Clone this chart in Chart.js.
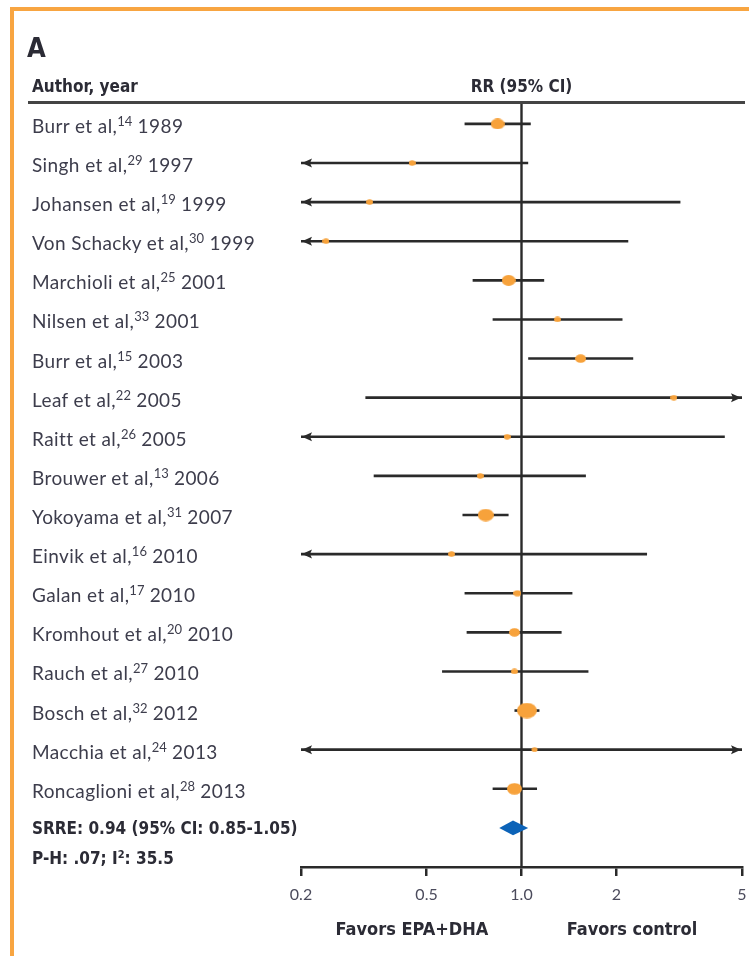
<!DOCTYPE html>
<html>
<head>
<meta charset="utf-8">
<script src="https://cdn.jsdelivr.net/npm/chart.js@4.4.1/dist/chart.umd.min.js"></script>
<style>
  html, body { margin: 0; padding: 0; background: #fff; }
  #wrap { position: relative; width: 749px; height: 956px; overflow: hidden; background: #fff; }
  #frame { position: absolute; left: 10px; top: 7px; width: 800px; height: 1000px;
           border-left: 4px solid #f8a541; border-top: 4px solid #f8a541; }
  #plot { position: absolute; left: 0; top: 0; }
  .txt { position: absolute; white-space: nowrap; line-height: 1; transform: translateY(-50%); }
  .study { left: 32px; font-family: Lato, "Open Sans", sans-serif; font-size: 19px; letter-spacing: 0.4px;
           color: #3d3d4c; }
  .study sup { font-size: 13px; vertical-align: baseline; position: relative; top: -7px; letter-spacing: 0; }
  .bold { font-family: "DejaVu Sans", sans-serif; font-stretch: condensed; font-weight: bold;
          color: #2b2b35; font-size: 17px; }
  .bold sup { font-size: 11px; vertical-align: baseline; position: relative; top: -6px; }
  #rule { position: absolute; left: 28px; top: 101px; width: 717px; height: 2.5px; background: #444; }
</style>
</head>
<body>
<div id="wrap">
  <div id="frame"></div>
  <canvas id="plot" width="749" height="956"></canvas>
  <div id="rule"></div>
</div>
<script>
// Trials included in the meta-analysis, top to bottom
const studies = ['Burr et al,', 'Singh et al,', 'Johansen et al,', 'Von Schacky et al,', 'Marchioli et al,',
  'Nilsen et al,', 'Burr et al,', 'Leaf et al,', 'Raitt et al,', 'Brouwer et al,', 'Yokoyama et al,',
  'Einvik et al,', 'Galan et al,', 'Kromhout et al,', 'Rauch et al,', 'Bosch et al,', 'Macchia et al,',
  'Roncaglioni et al,'];
const refs = ['14', '29', '19', '30', '25', '33', '15', '22', '26', '13', '31', '16', '17', '20', '27', '32', '24', '28'];
const years = ['1989', '1997', '1999', '1999', '2001', '2001', '2003', '2005', '2005', '2006', '2007',
  '2010', '2010', '2010', '2010', '2012', '2013', '2013'];

// Relative risk and 95% CI (null = interval runs past the plotted range)
const rr     = [0.84, 0.45, 0.33, 0.24, 0.91, 1.30, 1.54, 3.04, 0.90, 0.74, 0.77, 0.60, 0.97, 0.95, 0.95, 1.04, 1.10, 0.95];
const ciLow  = [0.66, null, null, null, 0.70, 0.81, 1.05, 0.32, null, 0.34, 0.65, null, 0.66, 0.67, 0.56, 0.95, null, 0.81];
const ciHigh = [1.07, 1.05, 3.19, 2.18, 1.18, 2.09, 2.26, null, 4.41, 1.60, 0.91, 2.50, 1.45, 1.34, 1.63, 1.14, null, 1.12];
// Relative study weight (%)
const weights = [12, 3, 3, 3, 12, 3, 7.5, 3, 3, 3, 16, 3, 4, 7.5, 3, 25, 2.3, 14];

// Summary random-effects estimate
const pooledRR = [0.94];
const pooledLow = [0.85];
const pooledHigh = [1.05];

// Axis
const tickValues = [0.2, 0.5, 1, 2, 5];
const tickLabels = ['0.2', '0.5', '1.0', '2', '5'];

const X_MIN = tickValues[0], X_MAX = tickValues[tickValues.length - 1];
const ROW_MIN = -0.56, ROW_MAX = 19.0;
const SUMMARY_ROW = studies.length;

const ORANGE = '#f7a23b';
const INK = '#2a2a2a';

// Elliptical marker sprites, area proportional to weight
function ellipseSprite(w) {
  const rx = 2.0 * Math.sqrt(w), ry = rx * 0.78;
  const c = document.createElement('canvas');
  c.width = Math.ceil(rx * 2); c.height = Math.ceil(ry * 2);
  const g = c.getContext('2d');
  g.fillStyle = ORANGE;
  g.beginPath();
  g.ellipse(c.width / 2, c.height / 2, rx, ry, 0, 0, Math.PI * 2);
  g.fill();
  return c;
}
const sprites = weights.map(ellipseSprite);

const markerSet = {
  type: 'scatter',
  order: 0,
  data: rr.map((v, i) => ({ x: v, y: i })),
  pointStyle: sprites,
  pointRadius: weights.map(w => 2.0 * Math.sqrt(w)),
  backgroundColor: ORANGE,
  borderWidth: 0
};

const ciSets = studies.map((s, i) => ({
  type: 'line',
  order: 1,
  data: [{ x: ciLow[i] ?? X_MIN, y: i }, { x: ciHigh[i] ?? X_MAX, y: i }],
  borderColor: INK,
  borderWidth: 2.6,
  pointRadius: 0,
  fill: false
}));

// Reference line at RR = 1, arrowheads for truncated intervals, pooled diamond
const forestPlugin = {
  id: 'forest',
  beforeDatasetsDraw(chart) {
    const { ctx, chartArea, scales: { x } } = chart;
    const px = x.getPixelForValue(1);
    ctx.save();
    ctx.strokeStyle = INK;
    ctx.lineWidth = 2.4;
    ctx.beginPath();
    ctx.moveTo(px, chartArea.top);
    ctx.lineTo(px, chartArea.bottom);
    ctx.stroke();
    ctx.restore();
  },
  afterDatasetsDraw(chart) {
    const { ctx, scales: { x, y } } = chart;
    ctx.save();
    ctx.fillStyle = INK;
    const head = (tipX, py, dir) => {
      ctx.beginPath();
      ctx.moveTo(tipX, py);
      ctx.lineTo(tipX + dir * 10, py - 4.5);
      ctx.lineTo(tipX + dir * 8, py);
      ctx.lineTo(tipX + dir * 10, py + 4.5);
      ctx.closePath();
      ctx.fill();
    };
    studies.forEach((s, i) => {
      const py = y.getPixelForValue(i);
      if (ciLow[i] === null) head(x.getPixelForValue(X_MIN) + 1, py, 1);
      if (ciHigh[i] === null) head(x.getPixelForValue(X_MAX) - 1, py, -1);
    });
    // pooled estimate diamond
    const cy = y.getPixelForValue(SUMMARY_ROW);
    const half = y.getPixelForValue(SUMMARY_ROW + 0.19) - cy;
    ctx.fillStyle = '#0c63b8';
    ctx.beginPath();
    ctx.moveTo(x.getPixelForValue(pooledLow[0]), cy);
    ctx.lineTo(x.getPixelForValue(pooledRR[0]), cy - half);
    ctx.lineTo(x.getPixelForValue(pooledHigh[0]), cy);
    ctx.lineTo(x.getPixelForValue(pooledRR[0]), cy + half);
    ctx.closePath();
    ctx.fill();
    ctx.restore();
  }
};

const chart = new Chart(document.getElementById('plot'), {
  data: { datasets: [markerSet, ...ciSets] },
  options: {
    responsive: false,
    animation: false,
    events: [],
    layout: { autoPadding: false, padding: { left: 301, right: 7, top: 102, bottom: 0 } },
    plugins: { legend: { display: false }, tooltip: { enabled: false } },
    scales: {
      x: {
        type: 'logarithmic',
        min: X_MIN,
        max: X_MAX,
        afterBuildTicks: s => { s.ticks = tickValues.map(v => ({ value: v })); },
        afterFit: s => { s.height = 89; s.paddingLeft = 0; s.paddingRight = 0; },
        ticks: {
          autoSkip: false,
          maxRotation: 0,
          padding: 9,
          color: '#4b4b5c',
          font: { family: 'Lato', size: 16 },
          callback: (v, i) => tickLabels[i]
        },
        grid: { drawOnChartArea: false, drawTicks: true, tickLength: 9, color: INK, lineWidth: 2.5 },
        border: { display: true, color: INK, width: 2.5 }
      },
      y: { type: 'linear', reverse: true, min: ROW_MIN, max: ROW_MAX, display: false }
    }
  },
  plugins: [forestPlugin]
});

// Text columns placed from the chart's own scales
const wrap = document.getElementById('wrap');
const yS = chart.scales.y, xS = chart.scales.x;
function addText(cls, html, left, top, extra) {
  const d = document.createElement('div');
  d.className = 'txt ' + cls;
  d.innerHTML = html;
  d.style.left = left + 'px';
  d.style.top = top + 'px';
  if (extra) Object.assign(d.style, extra);
  wrap.appendChild(d);
  return d;
}
studies.forEach((s, i) => {
  addText('study', s + '<sup>' + refs[i] + '</sup> ' + years[i], 32, yS.getPixelForValue(i) + 1);
});
addText('bold', 'A', 27, 47, { fontSize: '27px' });
addText('bold', 'Author, year', 32, 86);
addText('bold', 'RR (95% CI)', xS.getPixelForValue(1), 86, { transform: 'translate(-50%,-50%)' });
const sy = yS.getPixelForValue(SUMMARY_ROW);
addText('bold', 'SRRE: ' + pooledRR[0].toFixed(2) + ' (95% CI: ' + pooledLow[0].toFixed(2) + '-' + pooledHigh[0].toFixed(2) + ')', 32, sy);
addText('bold', 'P-H: .07; I<sup>2</sup>: 35.5', 32, sy + 30);
addText('bold', 'Favors EPA+DHA', 412, 929, { transform: 'translate(-50%,-50%)', fontSize: '18px' });
addText('bold', 'Favors control', 632, 929, { transform: 'translate(-50%,-50%)', fontSize: '18px' });
</script>
</body>
</html>
